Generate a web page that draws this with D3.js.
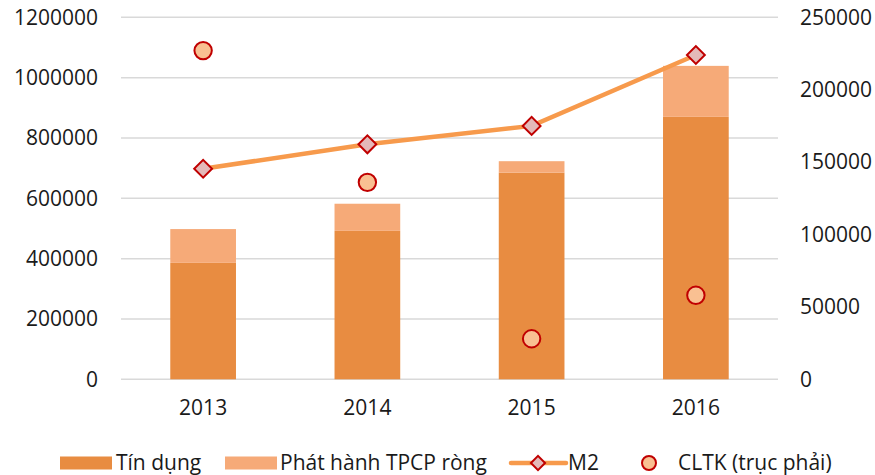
<!DOCTYPE html>
<html>
<head>
<meta charset="utf-8">
<script src="https://cdnjs.cloudflare.com/ajax/libs/d3/7.8.5/d3.min.js"></script>
<style>
  body { margin: 0; background: #fff; }
  svg text { font-family: "Open Sans", sans-serif; fill: #1a1a1a; }
</style>
</head>
<body>
<svg id="chart" width="875" height="475"></svg>
<script>
// data
var years = ['2013', '2014', '2015', '2016'];
var tinDung = [386000, 492000, 685000, 870000];
var tpcp = [112000, 90000, 38000, 169000];       // net bond issuance, stacked on top
var m2 = [698000, 779000, 840000, 1075000];
var cltk = [227000, 136000, 28000, 58000];        // right axis
var leftTicks = [0, 200000, 400000, 600000, 800000, 1000000, 1200000];
var rightTicks = [0, 50000, 100000, 150000, 200000, 250000];

var svg = d3.select('#chart');
var plotL = 121, plotR = 778, plotT = 17.3, plotB = 379.3;

var x = d3.scaleBand().domain(years).range([plotL, plotR]).paddingInner(0.6).paddingOuter(0.3);
var y = d3.scaleLinear().domain([0, 1200000]).range([plotB, plotT]);
var y2 = d3.scaleLinear().domain([0, 250000]).range([plotB, plotT]);

var dark = '#e88c41', light = '#f6aa78', lineCol = '#f79a4c', red = '#c00000';

// gridlines
svg.append('g').selectAll('line').data(leftTicks).enter().append('line')
  .attr('x1', plotL).attr('x2', plotR)
  .attr('y1', d => y(d)).attr('y2', d => y(d))
  .attr('stroke', '#d9d9d9').attr('stroke-width', 1.5)

// axes
var ax = svg.append('g').attr('transform', 'translate(98,0)')
  .call(d3.axisLeft(y).tickValues(leftTicks).tickSize(0).tickPadding(0).tickFormat(d3.format('d')))
var ax2 = svg.append('g').attr('transform', 'translate(800,0)')
  .call(d3.axisRight(y2).tickValues(rightTicks).tickSize(0).tickPadding(0).tickFormat(d3.format('d')))
var axx = svg.append('g').attr('transform', 'translate(0,' + (plotB + 21) + ')')
  .call(d3.axisBottom(x).tickSize(0).tickPadding(0))
;[ax, ax2, axx].forEach(a => {
  a.select('.domain').remove()
  a.selectAll('text').attr('font-family', '"Open Sans", sans-serif').attr('font-size', 21).attr('fill', '#1a1a1a')
})

// stacked bars
var bars = svg.append('g')
bars.selectAll('.td').data(years).enter().append('rect')
  .attr('x', d => x(d)).attr('width', x.bandwidth())
  .attr('y', (d, i) => y(tinDung[i])).attr('height', (d, i) => y(0) - y(tinDung[i]))
  .attr('fill', dark)
bars.selectAll('.tp').data(years).enter().append('rect')
  .attr('x', d => x(d)).attr('width', x.bandwidth())
  .attr('y', (d, i) => y(tinDung[i] + tpcp[i])).attr('height', (d, i) => y(tinDung[i]) - y(tinDung[i] + tpcp[i]))
  .attr('fill', light)

// M2 line
var cx = d => x(d) + x.bandwidth() / 2
var line = d3.line().x((d, i) => cx(years[i])).y(d => y(d))
svg.append('path').datum(m2).attr('d', line)
  .attr('fill', 'none').attr('stroke', lineCol).attr('stroke-width', 4.5)

var diamond = d3.symbol().type(d3.symbolSquare).size(160)
svg.append('g').selectAll('path').data(m2).enter().append('path')
  .attr('d', diamond)
  .attr('transform', (d, i) => 'translate(' + cx(years[i]) + ',' + y(d) + ') rotate(45)')
  .attr('fill', '#e4b9b9').attr('stroke', red).attr('stroke-width', 2)

// CLTK points
svg.append('g').selectAll('circle').data(cltk).enter().append('circle')
  .attr('cx', (d, i) => cx(years[i])).attr('cy', d => y2(d)).attr('r', 8.7)
  .attr('fill', '#f9c092').attr('stroke', red).attr('stroke-width', 2)

// legend
var ly = 463, lg = svg.append('g')
lg.append('rect').attr('x', 60).attr('y', ly - 6.5).attr('width', 52).attr('height', 13).attr('fill', dark)
lg.append('text').attr('x', 116).attr('y', ly).attr('dy', '0.35em').attr('font-size', 21).text('Tín dụng')
lg.append('rect').attr('x', 225).attr('y', ly - 6.5).attr('width', 52).attr('height', 13).attr('fill', light)
lg.append('text').attr('x', 280).attr('y', ly).attr('dy', '0.35em').attr('font-size', 21).text('Phát hành TPCP ròng')
lg.append('line').attr('x1', 511).attr('x2', 566).attr('y1', ly).attr('y2', ly)
  .attr('stroke', lineCol).attr('stroke-width', 4.5).attr('stroke-linecap', 'round')
lg.append('path').attr('d', d3.symbol().type(d3.symbolSquare).size(100))
  .attr('transform', 'translate(538,' + ly + ') rotate(45)')
  .attr('fill', '#e4b9b9').attr('stroke', red).attr('stroke-width', 2)
lg.append('text').attr('x', 568).attr('y', ly).attr('dy', '0.35em').attr('font-size', 21).text('M2')
lg.append('circle').attr('cx', 649).attr('cy', ly).attr('r', 7)
  .attr('fill', '#f9c092').attr('stroke', red).attr('stroke-width', 2)
lg.append('text').attr('x', 678).attr('y', ly).attr('dy', '0.35em').attr('font-size', 21).text('CLTK (trục phải)')
</script>
</body>
</html>
